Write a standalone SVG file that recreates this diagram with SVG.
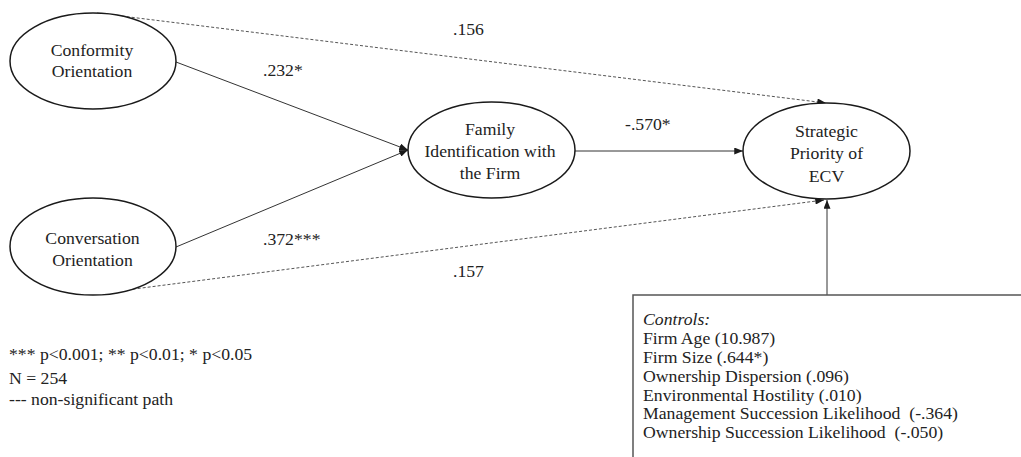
<svg xmlns="http://www.w3.org/2000/svg" width="1021" height="457" viewBox="0 0 1021 457">
  <style>
    text { font-family: 'Liberation Serif', 'DejaVu Serif', serif; font-size: 17.7px; fill: #222; }
    .node ellipse { fill: #fff; stroke: #1a1a1a; stroke-width: 1.5; }
    .mid { text-anchor: middle; }
    .solid { stroke: #333; stroke-width: 1; fill: none; }
    .dash { stroke: #555; stroke-width: 1; stroke-dasharray: 3 2; fill: none; }
    .box { fill: #fff; stroke: #555; stroke-width: 1.5; }
  </style>
  <defs>
    <marker id="arr" viewBox="0 0 10 8" refX="10" refY="4" markerWidth="9" markerHeight="7" markerUnits="userSpaceOnUse" orient="auto">
      <path d="M0,0 L10,4 L0,8 Z" fill="#1a1a1a"/>
    </marker>
  </defs>
  <rect width="1021" height="457" fill="#fff"/>

  <g id="connectors">
    <line class="solid" x1="176" y1="62" x2="408" y2="150" marker-end="url(#arr)"/>
    <line class="solid" x1="176" y1="247" x2="408" y2="150" marker-end="url(#arr)"/>
    <line class="solid" x1="575" y1="151" x2="743" y2="151" marker-end="url(#arr)"/>
    <line class="dash" x1="97" y1="13" x2="826" y2="103" marker-end="url(#arr)"/>
    <line class="dash" x1="103" y1="293" x2="824" y2="200" marker-end="url(#arr)"/>
    <line class="solid" x1="827" y1="295" x2="827" y2="200" marker-end="url(#arr)"/>
  </g>

  <g font-family="Liberation Serif, DejaVu Serif, serif">
  <g id="node-conformity" class="node">
    <ellipse cx="93" cy="61" rx="83" ry="48"/>
    <text class="mid" x="92" y="56">Conformity</text>
    <text class="mid" x="92" y="77">Orientation</text>
  </g>
  <g id="node-conversation" class="node">
    <ellipse cx="93" cy="246.5" rx="83" ry="48.5"/>
    <text class="mid" x="92.5" y="244">Conversation</text>
    <text class="mid" x="92.5" y="266">Orientation</text>
  </g>
  <g id="node-family" class="node">
    <ellipse cx="491.5" cy="150" rx="83.5" ry="48"/>
    <text class="mid" x="490" y="135">Family</text>
    <text class="mid" x="490" y="157">Identification with</text>
    <text class="mid" x="490" y="179">the Firm</text>
  </g>
  <g id="node-strategic" class="node">
    <ellipse cx="826.5" cy="151" rx="83.5" ry="48"/>
    <text class="mid" x="826.5" y="137">Strategic</text>
    <text class="mid" x="826.5" y="159">Priority of</text>
    <text class="mid" x="826.5" y="181.5">ECV</text>
  </g>

  <g id="node-controls">
    <rect class="box" x="633" y="295" width="400" height="200"/>
    <text x="643" y="325" font-style="italic">Controls:</text>
    <text x="643" y="344">Firm Age (10.987)</text>
    <text x="643" y="363">Firm Size (.644*)</text>
    <text x="643" y="382">Ownership Dispersion (.096)</text>
    <text x="643" y="400.5">Environmental Hostility (.010)</text>
    <text x="643" y="419" xml:space="preserve">Management Succession Likelihood  (-.364)</text>
    <text x="643" y="438" xml:space="preserve">Ownership Succession Likelihood  (-.050)</text>
  </g>

  <g id="edge-labels">
    <text x="453" y="35">.156</text>
    <text x="263" y="76">.232*</text>
    <text x="625" y="130">-.570*</text>
    <text x="263" y="245">.372***</text>
    <text x="453" y="277">.157</text>
  </g>

  <g id="legend">
    <text x="9" y="360">*** p&lt;0.001; ** p&lt;0.01; * p&lt;0.05</text>
    <text x="9" y="384">N = 254</text>
    <text x="9" y="405">--- non-significant path</text>
  </g>
  </g>
</svg>
